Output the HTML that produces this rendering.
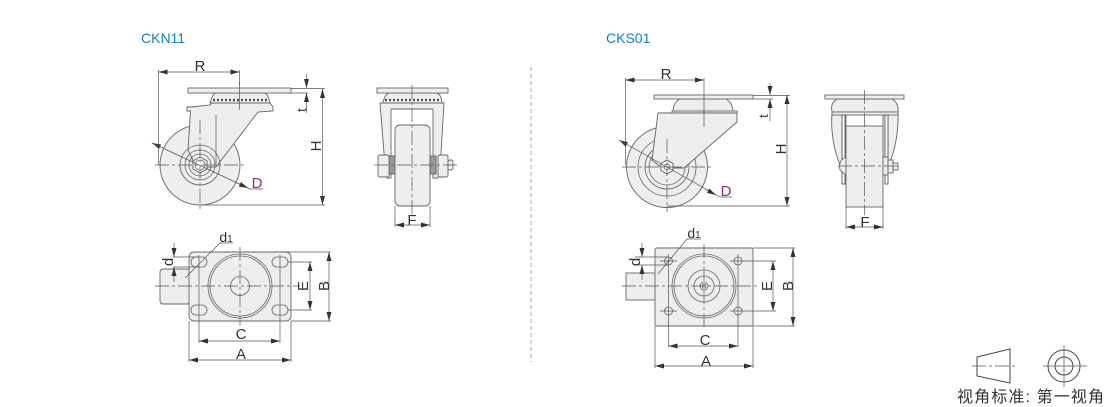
<!DOCTYPE html>
<html><head><meta charset="utf-8">
<style>
html,body{margin:0;padding:0;background:#fff;width:1110px;height:407px;overflow:hidden}
svg{display:block}
text{font-family:"Liberation Sans","Noto Sans CJK SC",sans-serif;fill:#333;font-size:15px;text-anchor:middle}
.o{fill:#eeeeee;stroke:#666;stroke-width:.9}
.w{fill:#fff;stroke:#555;stroke-width:.9}
.n{fill:none;stroke:#666;stroke-width:.8}
.d{fill:none;stroke:#555;stroke-width:.7}
.c{fill:none;stroke:#555;stroke-width:.7;stroke-dasharray:14 3 3 3}
</style></head><body>
<svg width="1110" height="407" viewBox="0 0 1110 407" xmlns="http://www.w3.org/2000/svg">
<defs>
<marker id="a" viewBox="0 0 9 5" refX="9" refY="2.500" markerWidth="9" markerHeight="5" orient="auto-start-reverse" markerUnits="userSpaceOnUse"><path d="M0 0L9 2.500L0 5z" fill="#333"/></marker>
</defs>
<text x="141" y="43" style="text-anchor:start;fill:#0f82c4;font-size:14px">CKN11</text>
<text x="606" y="43" style="text-anchor:start;fill:#0f82c4;font-size:14px">CKS01</text>
<line x1="531" y1="67" x2="531" y2="362" stroke="#aaa" stroke-width="1" stroke-dasharray="4 3"/>

<!-- CKN11 side -->
<circle class="o" cx="200" cy="165" r="40"/>
<path class="o" d="M210 103Q213 93 216 93H264Q268 93 270 103Z"/>
<rect class="o" x="188" y="88" width="103" height="5"/>
<line x1="213" y1="100" x2="268" y2="100" stroke="#555" stroke-width="2.400" stroke-dasharray="2 2"/>
<path class="o" d="M187 111V107H191L210 105L212 103H270L273 107V111L258 112L216 167H196L188 150L190.500 111Z"/>
<g class="n"><circle cx="200" cy="165" r="20"/><path d="M216 177A20 20 0 0 1 180 165"/><circle cx="200" cy="165" r="15"/><circle cx="200" cy="165" r="11"/></g>
<path class="w" d="M200 157L207 161V169L200 173L193 169V161Z"/><circle class="n" cx="200" cy="165" r="5"/>
<line class="n" x1="216" y1="115" x2="216" y2="166"/>
<line class="c" x1="155" y1="165" x2="245" y2="165"/><line class="c" x1="200" y1="120" x2="200" y2="210"/>
<line class="d" x1="239.500" y1="82" x2="239.500" y2="110"/>
<g class="d">
<path d="M158.500 70V165M239.500 70V85"/>
<line x1="158.500" y1="72" x2="239.500" y2="72" marker-start="url(#a)" marker-end="url(#a)"/>
<path d="M291 88.500H310M291 93H308M200 205H325M300 88.500H325"/>
<line x1="306.500" y1="74" x2="306.500" y2="88" marker-end="url(#a)"/>
<line x1="306.500" y1="113" x2="306.500" y2="93" marker-end="url(#a)"/>
<line x1="322.500" y1="89" x2="322.500" y2="205" marker-start="url(#a)" marker-end="url(#a)"/>
<line x1="152" y1="143" x2="158.500" y2="146" marker-start="url(#a)"/>
<path d="M152 143L250 189H263"/>
<line x1="237" y1="183" x2="248" y2="188" marker-end="url(#a)"/>
</g>
<text x="200" y="71">R</text>
<text x="257" y="188" style="fill:#8d2a78">D</text>
<text transform="translate(321 146) rotate(-90)">H</text>
<text transform="translate(306 110) rotate(-90)" style="font-size:13px">t</text>

<!-- CKN11 front -->
<path class="o" d="M380 103H444L441 153L438 178H433V109H391V178H387L384 153Z"/>
<path class="o" d="M383 103Q385 93 390 93H436Q441 93 442 103Z"/>
<rect class="o" x="377" y="88" width="71" height="5"/>
<line x1="385" y1="100" x2="440" y2="100" stroke="#555" stroke-width="2.400" stroke-dasharray="2 2"/>
<rect class="o" x="395" y="125" width="35" height="81" rx="5"/>
<rect x="389" y="156" width="6" height="18" fill="#999" stroke="#666"/><rect x="430" y="156" width="6" height="18" fill="#999" stroke="#666"/>
<rect class="o" x="378" y="155" width="11" height="22" rx="2"/><rect class="o" x="438" y="155" width="10" height="22" rx="2"/>
<rect class="o" x="448" y="160" width="5" height="10" rx="2"/>
<line class="c" x1="374" y1="165" x2="458" y2="165"/><line class="c" x1="412" y1="85" x2="412" y2="215"/>
<path class="d" d="M395 206V227M430 206V227"/>
<line class="d" x1="395" y1="225" x2="430" y2="225" marker-start="url(#a)" marker-end="url(#a)"/>
<text x="412" y="225">F</text>

<!-- CKN11 top -->
<rect class="o" x="160" y="269" width="30" height="35" rx="3"/>
<rect class="o" x="189" y="252" width="102" height="69" rx="5"/>
<circle class="n" cx="240" cy="286" r="32"/><circle class="n" cx="240" cy="286" r="30"/><circle class="n" cx="240" cy="286" r="9.500"/>
<g class="n"><rect x="191" y="257" width="16" height="10" rx="5"/><rect x="272" y="257" width="16" height="10" rx="5"/><rect x="191" y="305" width="16" height="10" rx="5"/><rect x="272" y="305" width="16" height="10" rx="5"/></g>
<line class="c" x1="155" y1="286" x2="300" y2="286"/><line class="c" x1="240" y1="247" x2="240" y2="326"/>
<path class="d" d="M199 255V343M280 255V343M189 321V362M291 321V362M280 252H331M291 321H331M288 262H312M288 310H312M173 257H199M173 267H199"/>
<line class="d" x1="329" y1="252" x2="329" y2="321" marker-start="url(#a)" marker-end="url(#a)"/>
<line class="d" x1="310" y1="262" x2="310" y2="310" marker-start="url(#a)" marker-end="url(#a)"/>
<line class="d" x1="199" y1="341" x2="280" y2="341" marker-start="url(#a)" marker-end="url(#a)"/>
<line class="d" x1="189" y1="360" x2="291" y2="360" marker-start="url(#a)" marker-end="url(#a)"/>
<line class="d" x1="174" y1="243" x2="174" y2="257" marker-end="url(#a)"/>
<line class="d" x1="174" y1="282" x2="174" y2="267" marker-end="url(#a)"/>
<path class="d" d="M233 243H220L185 278"/>
<text x="241" y="339">C</text><text x="241" y="359">A</text>
<text transform="translate(308 286) rotate(-90)">E</text>
<text transform="translate(329 286) rotate(-90)">B</text>
<text transform="translate(174 262) rotate(-90)" dy="-1">d</text>
<text x="226" y="242" style="font-size:14px">d<tspan font-size="10">1</tspan></text>

<!-- CKS01 side -->
<circle class="o" cx="667" cy="167" r="40.500"/>
<g class="n"><circle cx="667" cy="167" r="29"/><circle cx="667" cy="167" r="22"/><circle cx="667" cy="167" r="18"/></g>
<path class="o" d="M673 112Q673 102 680 99H726Q733 103 733 112Z"/>
<rect class="o" x="672" y="111" width="65" height="4"/>
<rect class="o" x="654" y="95" width="99" height="4"/>
<path class="o" d="M658 113H737V122L684 168H662L652 160Z"/>
<path class="w" d="M667 160L673 163.500V170.500L667 174L661 170.500V163.500Z"/><circle class="n" cx="667" cy="167" r="3"/>
<line class="c" x1="622" y1="167" x2="711" y2="167"/><line class="c" x1="667" y1="139" x2="667" y2="212"/>
<line class="d" x1="704" y1="90" x2="704" y2="127"/>
<g class="d">
<path d="M625.500 78V165M704 78V90M753 95.500H790M753 99H773M667 206H790"/>
<line x1="625.500" y1="80" x2="704" y2="80" marker-start="url(#a)" marker-end="url(#a)"/>
<line x1="770" y1="83" x2="770" y2="95" marker-end="url(#a)"/>
<line x1="770" y1="121" x2="770" y2="99" marker-end="url(#a)"/>
<line x1="787" y1="95" x2="787" y2="206" marker-start="url(#a)" marker-end="url(#a)"/>
<line x1="619" y1="140" x2="626" y2="144" marker-start="url(#a)"/>
<path d="M619 140L720 197H732"/>
<line x1="705" y1="189" x2="716" y2="195" marker-end="url(#a)"/>
</g>
<text x="666" y="79">R</text>
<text x="726" y="196" style="fill:#8d2a78">D</text>
<text transform="translate(786 149) rotate(-90)">H</text>
<text transform="translate(768 116) rotate(-90)" style="font-size:13px">t</text>

<!-- CKS01 front -->
<path class="o" d="M832 113Q830 140 840 165L846 175V115ZM898 113Q899 140 889 165L883 175V115Z"/>
<path class="o" d="M832 112Q830 102 838 99H892Q899 103 898 112Z"/>
<rect class="o" x="825" y="95" width="79" height="4"/>
<rect class="o" x="832" y="112" width="66" height="3"/>
<rect class="w" x="842" y="115" width="3" height="69"/><rect class="w" x="885" y="115" width="3" height="69"/>
<rect class="o" x="846" y="126" width="37" height="81"/>
<path class="o" d="M846 157Q838 160 840 170L846 175ZM883 157H888V175H883Z"/>
<rect class="o" x="888" y="160" width="5" height="13"/><rect class="o" x="893" y="163" width="5" height="7"/>
<line class="c" x1="838" y1="166" x2="900" y2="166"/><line class="c" x1="864.500" y1="90" x2="864.500" y2="215"/>
<path class="d" d="M846 207V229M883 207V229"/>
<line class="d" x1="846" y1="227" x2="883" y2="227" marker-start="url(#a)" marker-end="url(#a)"/>
<text x="865" y="227">F</text>

<!-- CKS01 top -->
<rect class="o" x="626" y="273" width="30" height="27"/>
<rect class="o" x="655" y="248" width="98" height="78" rx="2"/>
<g class="n"><circle cx="704" cy="286" r="32"/><circle cx="704" cy="286" r="30"/><circle cx="704" cy="286" r="16"/><circle cx="704" cy="286" r="10"/><circle cx="704" cy="286" r="4"/><circle cx="704" cy="286" r="2"/>
<circle cx="668.500" cy="261" r="4"/><circle cx="738" cy="261" r="4"/><circle cx="668.500" cy="311" r="4"/><circle cx="738" cy="311" r="4"/></g>
<line class="c" x1="622" y1="286" x2="758" y2="286"/><line class="c" x1="704" y1="244" x2="704" y2="330"/>
<path class="d" d="M668.500 254V347M738 254V347M655 326V368M753 326V368M660 261H677M730 261H776M660 311H677M730 311H776M753 248H795M753 326H795M635 257H668M635 265H668"/>
<line class="d" x1="793" y1="248" x2="793" y2="326" marker-start="url(#a)" marker-end="url(#a)"/>
<line class="d" x1="773" y1="261" x2="773" y2="311" marker-start="url(#a)" marker-end="url(#a)"/>
<line class="d" x1="668.500" y1="346" x2="738" y2="346" marker-start="url(#a)" marker-end="url(#a)"/>
<line class="d" x1="655" y1="366" x2="753" y2="366" marker-start="url(#a)" marker-end="url(#a)"/>
<line class="d" x1="642" y1="243" x2="642" y2="257" marker-end="url(#a)"/>
<line class="d" x1="642" y1="280" x2="642" y2="265" marker-end="url(#a)"/>
<path class="d" d="M701 239H687L658 274"/>
<text x="705" y="345">C</text><text x="706" y="366">A</text>
<text transform="translate(772 286) rotate(-90)">E</text>
<text transform="translate(793 286) rotate(-90)">B</text>
<text transform="translate(640 262) rotate(-90)">d</text>
<text x="694" y="238" style="font-size:14px">d<tspan font-size="10">1</tspan></text>

<!-- projection -->
<path fill="none" stroke="#444" d="M977 357L1010 349V383L977 376Z"/>
<line class="c" x1="972" y1="366" x2="1015" y2="366"/>
<circle cx="1064" cy="366" r="16" fill="none" stroke="#444"/><circle cx="1064" cy="366" r="9" fill="none" stroke="#444"/>
<path class="d" d="M1043 366H1087M1064 345V387"/>
<text x="957" y="402" style="text-anchor:start;font-size:16px" textLength="147">视角标准: 第一视角</text>
</svg>
</body></html>
